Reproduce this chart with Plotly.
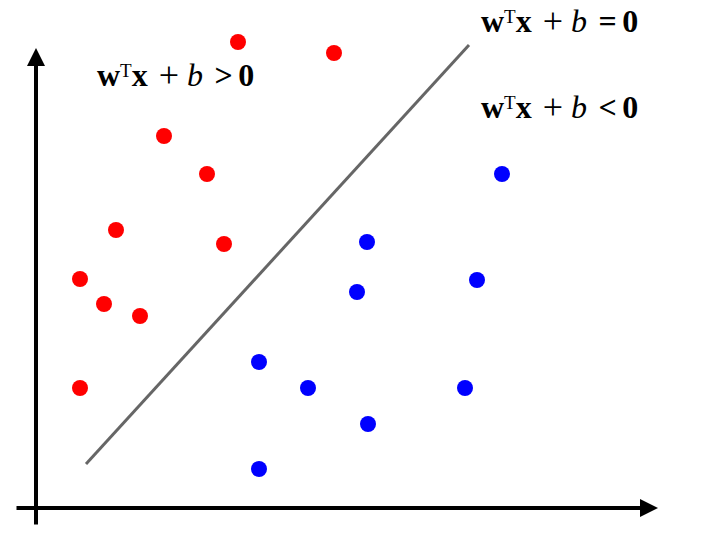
import plotly.graph_objects as go

# Data (units: arbitrary, origin at axes crossing)
red_x = [20.2, 29.8, 12.8, 17.1, 8.0, 18.8, 4.4, 6.8, 10.4, 4.4]
red_y = [46.6, 45.5, 37.2, 33.4, 27.8, 26.4, 22.9, 20.4, 19.2, 12.0]
blue_x = [46.6, 33.1, 44.1, 32.1, 22.3, 27.2, 42.9, 33.2, 22.3]
blue_y = [33.4, 26.6, 22.8, 21.6, 14.6, 12.0, 12.0, 8.4, 3.9]
line_x = [5.0, 43.3]
line_y = [4.4, 46.3]

relations = ["=", "&gt;", "&lt;"]
label_x = [44.4, 6.0, 44.4]
label_y = [48.7, 43.3, 40.1]


def make_label(rel):
    return ("<b>w</b><span style='font-size:19px;baseline-shift:9px'>T</span>"
            "<b>x</b><span style='font-size:12px'>&nbsp;</span> "
            "<span style='font-size:36px;baseline-shift:-1px'>+</span> "
            "<i>b</i><span style='font-size:14px'>&nbsp;</span> <b>" + rel + "</b>"
            "<span style='font-size:22px'>&nbsp;</span><b>0</b>")


fig = go.Figure()
fig.add_trace(go.Scatter(x=line_x, y=line_y, mode="lines",
                         line=dict(color="#666666", width=3), hoverinfo="skip"))
fig.add_trace(go.Scatter(x=red_x, y=red_y, mode="markers",
                         marker=dict(color="#FF0000", size=16), hoverinfo="skip"))
fig.add_trace(go.Scatter(x=blue_x, y=blue_y, mode="markers",
                         marker=dict(color="#0000FF", size=16), hoverinfo="skip"))

# Axis arrows
fig.add_annotation(x=62.2, y=0, ax=-2.1, ay=0, xref="x", yref="y", axref="x", ayref="y",
                   showarrow=True, arrowhead=2, arrowsize=0.9, arrowwidth=4,
                   arrowcolor="#000000", text="", standoff=0, startstandoff=0)
fig.add_annotation(x=0, y=46.0, ax=0, ay=-1.8, xref="x", yref="y", axref="x", ayref="y",
                   showarrow=True, arrowhead=2, arrowsize=0.9, arrowwidth=4,
                   arrowcolor="#000000", text="", standoff=0, startstandoff=0)

for rel, lx, ly in zip(relations, label_x, label_y):
    fig.add_annotation(x=lx, y=ly, xref="x", yref="y", text=make_label(rel), showarrow=False,
                       xanchor="left", yanchor="middle", borderpad=0,
                       font=dict(family="Liberation Serif", size=32, color="#000000"))

fig.update_xaxes(range=[-2.8, 68.0], visible=False)
fig.update_yaxes(range=[-3.7, 50.0], visible=False)
fig.update_layout(width=708, height=537, margin=dict(l=0, r=0, t=0, b=0),
                  plot_bgcolor="white", paper_bgcolor="white", showlegend=False)

fig.write_html("out.html")
